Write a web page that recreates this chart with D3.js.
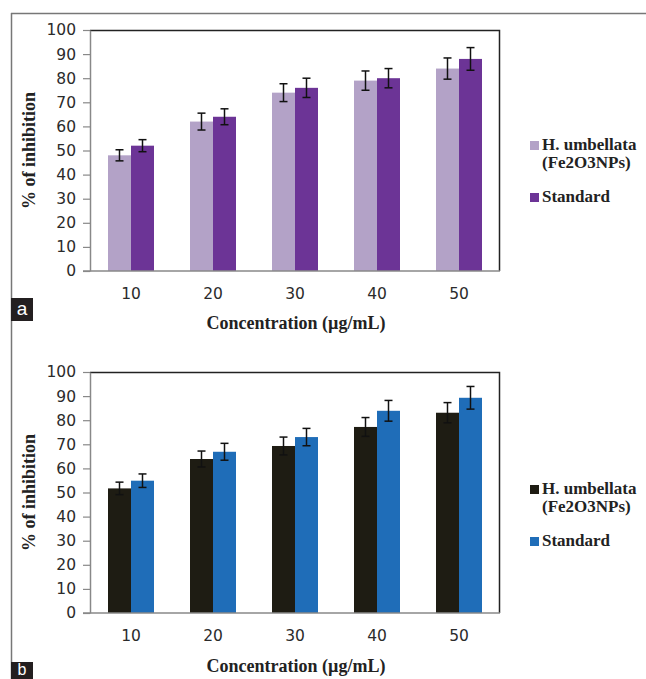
<!DOCTYPE html>
<html>
<head>
<meta charset="utf-8">
<script src="https://cdn.jsdelivr.net/npm/d3@7"></script>
<style>
  body { margin: 0; background: #fff; }
  svg { display: block; }
</style>
</head>
<body>
<div id="chart"></div>
<script>
// concentrations (µg/mL)
var concentrations = ["10", "20", "30", "40", "50"];
var yTicks = [0, 10, 20, 30, 40, 50, 60, 70, 80, 90, 100];
var seriesNames = ["H. umbellata", "Standard"];

// panel a
var aPlant = [48, 62, 74, 79, 84];
var aPlantErr = [2.3, 3.5, 3.7, 4, 4.4];
var aStandard = [52, 64, 76, 80, 88];
var aStandardErr = [2.5, 3.3, 4, 4, 4.7];

// panel b
var bPlant = [51.7, 63.9, 69.3, 77.2, 83.1];
var bPlantErr = [2.6, 3.3, 3.7, 3.9, 4.2];
var bStandard = [54.9, 66.9, 73, 83.9, 89.3];
var bStandardErr = [2.8, 3.5, 3.6, 4.3, 4.7];

var W = 646, H = 679;

var svg = d3.select("#chart")
  .append("svg")
  .attr("width", W)
  .attr("height", H);

// outer frame (top + left)
svg.append("line").attr("x1", 11).attr("x2", W).attr("y1", 13.5).attr("y2", 13.5)
  .attr("stroke", "#777").attr("stroke-width", 1.5);
svg.append("line").attr("x1", 11.5).attr("x2", 11.5).attr("y1", 13).attr("y2", H)
  .attr("stroke", "#777").attr("stroke-width", 1.5);

function panel(opts) {
  var g = svg.append("g").attr("transform", "translate(90," + opts.top + ")");
  var width = 410, height = 241;

  var x0 = d3.scaleBand().domain(concentrations).range([0, width]);
  var x1 = d3.scaleBand().domain(seriesNames).range([18, x0.bandwidth() - 18]);
  var y = d3.scaleLinear().domain([0, 100]).range([height, 0]);

  // plot frame: top and right dark
  g.append("path")
    .attr("d", "M0,0.5H" + (width - 0.5) + "V" + height)
    .attr("fill", "none").attr("stroke", "#222").attr("stroke-width", 1.5);

  var rows = [
    { name: seriesNames[0], vals: opts.plant, errs: opts.plantErr, color: opts.colors[0] },
    { name: seriesNames[1], vals: opts.standard, errs: opts.standardErr, color: opts.colors[1] }
  ];

  rows.forEach(function (s) {
    var grp = g.append("g");
    grp.selectAll("rect")
      .data(s.vals).enter()
      .append("rect")
      .attr("x", function (d, i) { return x0(concentrations[i]) + x1(s.name); })
      .attr("y", function (d) { return y(d); })
      .attr("width", x1.bandwidth())
      .attr("height", function (d) { return height - y(d); })
      .attr("fill", s.color);

    var eb = grp.selectAll(".err")
      .data(s.vals).enter()
      .append("g")
      .attr("transform", function (d, i) {
        return "translate(" + (x0(concentrations[i]) + x1(s.name) + x1.bandwidth() / 2) + ",0)";
      });
    eb.append("line")
      .attr("y1", function (d, i) { return y(d + s.errs[i]); })
      .attr("y2", function (d, i) { return y(d - s.errs[i]); })
      .attr("stroke", "#111").attr("stroke-width", 1.5);
    eb.append("line").attr("x1", -4).attr("x2", 4)
      .attr("y1", function (d, i) { return y(d + s.errs[i]); })
      .attr("y2", function (d, i) { return y(d + s.errs[i]); })
      .attr("stroke", "#111").attr("stroke-width", 1.5);
    eb.append("line").attr("x1", -4).attr("x2", 4)
      .attr("y1", function (d, i) { return y(d - s.errs[i]); })
      .attr("y2", function (d, i) { return y(d - s.errs[i]); })
      .attr("stroke", "#111").attr("stroke-width", 1.5);
  });

  // y axis
  var yAxis = g.append("g")
    .call(d3.axisLeft(y).tickValues(yTicks).tickSize(7).tickSizeOuter(0).tickPadding(7));
  yAxis.select(".domain").attr("stroke", "#888").attr("stroke-width", 1.5);
  yAxis.selectAll(".tick line").attr("stroke", "#888").attr("stroke-width", 1.2);
  yAxis.selectAll("text")
    .attr("fill", "#2b2b2b")
    .style("font-family", "DejaVu Sans, sans-serif")
    .style("font-size", "15.5px");

  // x axis
  var xAxis = g.append("g")
    .attr("transform", "translate(0," + height + ")")
    .call(d3.axisBottom(x0).tickSize(0).tickPadding(17));
  xAxis.select(".domain").attr("d", "M-7,0H" + width).attr("stroke", "#888").attr("stroke-width", 1.5);
  xAxis.selectAll("text")
    .attr("fill", "#2b2b2b")
    .style("font-family", "DejaVu Sans, sans-serif")
    .style("font-size", "15.5px");

  // axis titles
  g.append("text")
    .attr("transform", "rotate(-90)")
    .attr("x", -height / 2)
    .attr("y", -55)
    .style("text-anchor", "middle")
    .style("font-family", "Liberation Serif, serif")
    .style("font-weight", "bold")
    .style("font-size", "18px")
    .attr("fill", "#222")
    .text("% of inhibition");

  g.append("text")
    .attr("x", 206)
    .attr("y", opts.titleY)
    .style("text-anchor", "middle")
    .style("font-family", "Liberation Serif, serif")
    .style("font-weight", "bold")
    .style("font-size", "18px")
    .attr("fill", "#222")
    .text("Concentration (µg/mL)");

  // legend
  var lg = svg.append("g").attr("transform", "translate(530," + opts.legendY + ")");
  var labels = [["H. umbellata", "(Fe2O3NPs)"], ["Standard"]];
  var offs = [0, 52];
  rows.forEach(function (s, i) {
    lg.append("rect").attr("x", 0).attr("y", offs[i] - 9).attr("width", 9).attr("height", 9)
      .attr("fill", s.color);
    labels[i].forEach(function (t, j) {
      lg.append("text")
        .attr("x", 12)
        .attr("y", offs[i] + j * 18)
        .style("font-family", "Liberation Serif, serif")
        .style("font-weight", "bold")
        .style("font-size", "17px")
        .attr("fill", "#222")
        .text(t);
    });
  });

  // panel letter
  svg.append("rect").attr("x", 11).attr("y", opts.letterY).attr("width", 22).attr("height", opts.letterH)
    .attr("fill", "#231f20");
  svg.append("text")
    .attr("x", 22).attr("y", opts.letterY + opts.letterBase)
    .style("text-anchor", "middle")
    .style("font-family", "Liberation Sans, Arial, sans-serif")
    .style("font-size", opts.letterSize)
    .attr("fill", "#fff")
    .text(opts.letter);
}

panel({
  top: 30, plant: aPlant, plantErr: aPlantErr, standard: aStandard, standardErr: aStandardErr,
  colors: ["#b3a2c7", "#6c3496"], legendY: 150, letterY: 298, letterH: 23, letterBase: 17,
  letterSize: "19px", letter: "a", titleY: 299
});

panel({
  top: 372, plant: bPlant, plantErr: bPlantErr, standard: bStandard, standardErr: bStandardErr,
  colors: ["#1e1c13", "#1f6db8"], legendY: 494, letterY: 662, letterH: 17, letterBase: 13,
  letterSize: "16px", letter: "b", titleY: 300
});
</script>
</body>
</html>
